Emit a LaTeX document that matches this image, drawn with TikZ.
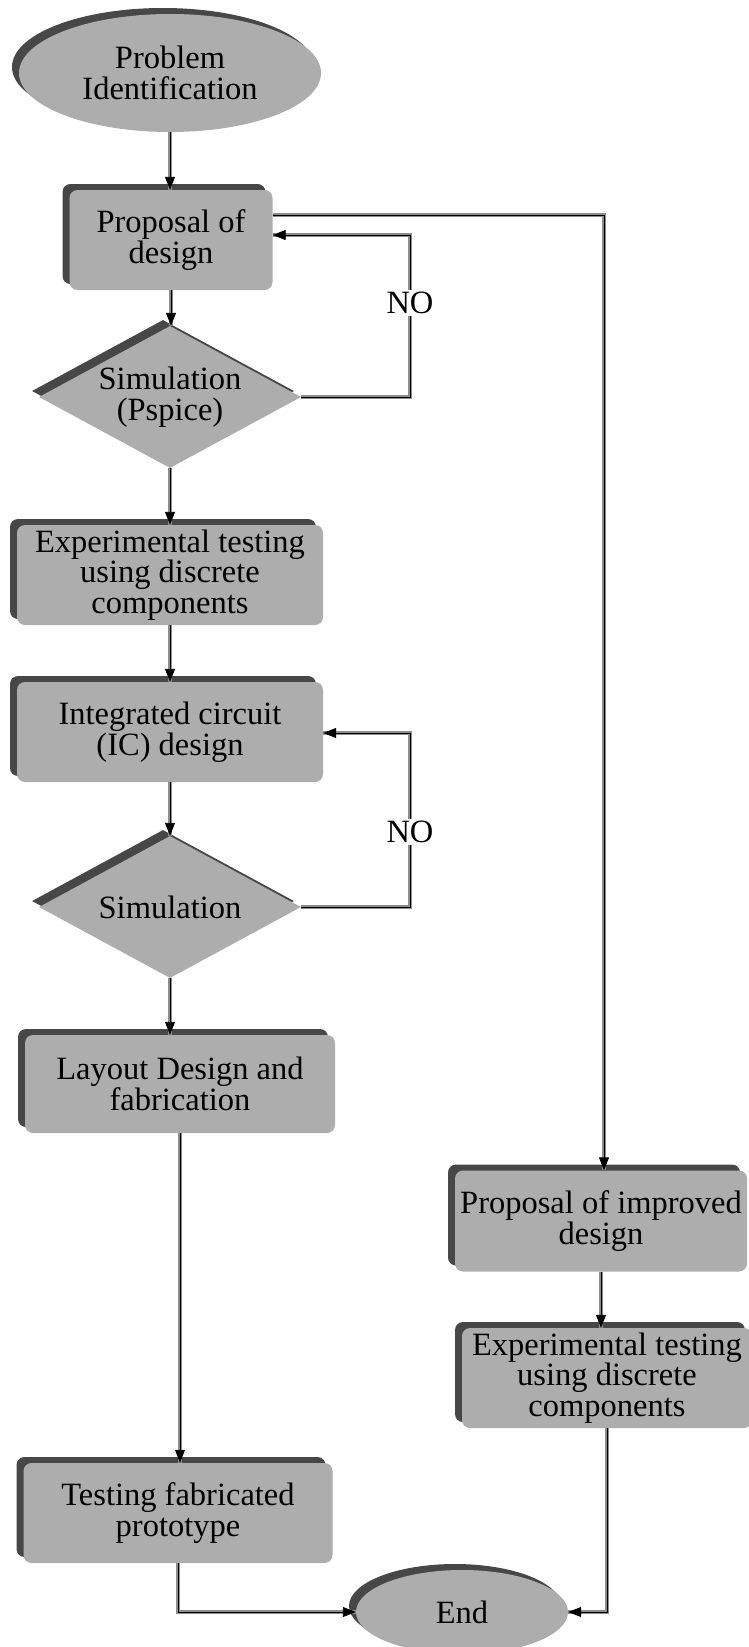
\documentclass[tikz,border=0pt]{standalone}
\usepackage{fontspec}
\setmainfont{Liberation Serif}
\usetikzlibrary{shapes.geometric,shadows,arrows.meta}
\newcommand\flowfont{\fontsize{32.5}{30.5}\selectfont}
\begin{document}
\begin{tikzpicture}[x=1pt,y=-1pt,
  raised/.style={general shadow={shadow xshift=-7pt, shadow yshift=6pt, fill=black!72, opacity=1}},
  stepbox/.style={rectangle, rounded corners=8pt, fill=black!32, draw=none, raised,
    align=center, inner sep=0pt, font=\flowfont},
  decision/.style={diamond, aspect=1.85, fill=black!32, draw=none, raised,
    align=center, inner sep=0pt, minimum width=262pt, minimum height=142pt, font=\flowfont},
  terminal/.style={ellipse, fill=black!32, draw=none, raised,
    align=center, inner sep=0pt, font=\flowfont},
  link/.style={draw=black, line width=0.9pt, -{Triangle[length=13pt,width=10pt]},
    preaction={draw=black!45, line width=3.6pt, -}},
  nolabel/.style={fill=white, inner sep=2pt, font=\flowfont}
]
% page
\fill[white] (0,0) rectangle (749,1647);
\useasboundingbox (0,0) rectangle (749,1647);

% left column
\node[terminal, minimum width=302pt, minimum height=118pt] (pi) at (170,73) {Problem\\Identification};
\node[stepbox, minimum width=203pt, minimum height=100pt] (prop) at (171,240) {Proposal of\\design};
\node[decision] (sim1) at (170,397) {Simulation\\(Pspice)};
\node[stepbox, minimum width=306pt, minimum height=100pt] (exp1) at (170,575) {Experimental testing\\using discrete\\components};
\node[stepbox, minimum width=306pt, minimum height=100pt] (ic) at (170,732) {Integrated circuit\\(IC) design};
\node[decision] (sim2) at (170,907) {Simulation};
\node[stepbox, minimum width=310pt, minimum height=98pt] (lay) at (180,1084) {Layout Design and\\fabrication};
\node[stepbox, minimum width=309pt, minimum height=100pt] (test) at (178,1513) {Testing fabricated\\prototype};

% right column
\node[stepbox, minimum width=292pt, minimum height=101pt] (pimp) at (601,1221) {Proposal of improved\\design};
\node[stepbox, minimum width=290pt, minimum height=100pt] (exp2) at (607,1378) {Experimental testing\\using discrete\\components};

% end
\node[terminal, minimum width=212pt, minimum height=84pt] (end) at (462,1612) {End};

% main flow
\draw[link] (pi.south) -- (pi.south |- prop.north);
\draw[link] (prop.south) -- (prop.south |- sim1.north);
\draw[link] (sim1.south) -- (sim1.south |- exp1.north);
\draw[link] (exp1.south) -- (ic.north);
\draw[link] (ic.south) -- (ic.south |- sim2.north);
\draw[link] (sim2.south) -- (sim2.south |- lay.north);
\draw[link] (lay.south) -- (lay.south |- test.north);
\draw[link] (test.south) |- (end.west);

% branch to the improved design
\coordinate (tr) at (604,215);
\draw[link] (prop.east |- tr) -- (tr) -- (tr |- pimp.north);
\draw[link] (pimp.south) -- (pimp.south |- exp2.north);
\draw[link] (exp2.south) |- (end.east);

% feedback loops
\coordinate (na) at (410,397);
\coordinate (nb) at (410,235);
\draw[link] (sim1.east) -- (na) -- node[nolabel, pos=0.58] {NO} (nb) -- (prop.east |- nb);
\coordinate (nc) at (410,907);
\coordinate (nd) at (410,733);
\draw[link] (sim2.east) -- (nc) -- node[nolabel, pos=0.43] {NO} (nd) -- (ic.east |- nd);
\end{tikzpicture}
\end{document}
